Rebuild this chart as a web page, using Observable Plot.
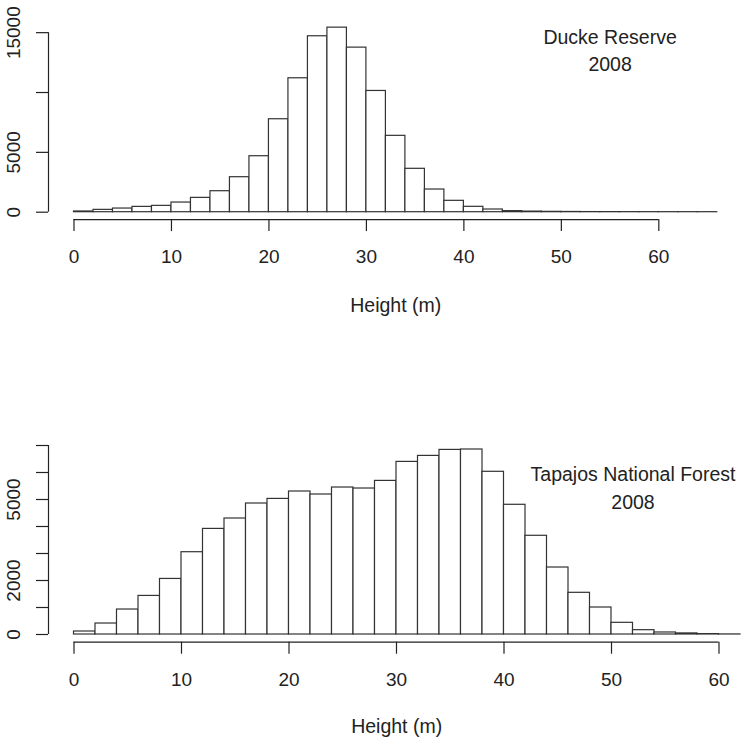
<!DOCTYPE html>
<html>
<head>
<meta charset="utf-8">
<script src="https://cdn.jsdelivr.net/npm/d3@7"></script>
<script src="https://cdn.jsdelivr.net/npm/@observablehq/plot@0.6"></script>
<style>
  body { margin: 0; background: #fff; }
  #chart svg { display: block; }
</style>
</head>
<body>
<div id="chart"></div>
<script>
// ---- Data ----
const binWidth = 2; // metres per histogram bin

// Ducke Reserve 2008: counts per 2 m bin, from 0 m up to 66 m
const duckeCounts = [60, 195, 306, 445, 529, 807, 1197, 1754, 2924, 4677, 7767, 11190,
  14700, 15420, 13750, 10130, 6380, 3625, 1895, 950, 450, 225, 90, 50, 30, 20, 10, 8, 4, 3, 2, 1, 1];

// Tapajos National Forest 2008: counts per 2 m bin, from 0 m up to 62 m
const tapajosCounts = [111, 407, 925, 1429, 2058, 3048, 3911, 4296, 4852, 5022, 5296, 5185,
  5444, 5407, 5689, 6393, 6615, 6837, 6852, 6026, 4804, 3656, 2481, 1544, 1000, 433, 160, 75, 40, 15, 3];

const xTicks = [0, 10, 20, 30, 40, 50, 60];
const duckeYTicks = [0, 5000, 10000, 15000];
const duckeYLabels = ["0", "5000", "", "15000"];
const tapajosYTicks = [0, 1000, 2000, 3000, 4000, 5000, 6000, 7000];
const tapajosYLabels = ["0", "", "2000", "", "", "5000", "", ""];

const duckeTitle = ["Ducke Reserve", "2008"];
const tapajosTitle = ["Tapajos National Forest", "2008"];
const duckeTitlePos = {x: 55, y: 13650};
const tapajosTitlePos = {x: 52, y: 5489};
const xLabel = "Height (m)";

// ---- Drawing ----
const FONT = "'Liberation Sans', Arial, Helvetica, sans-serif";
const INK = "#222";

function histogram({counts, xMax, yMax, yTicks, yLabels, title, titlePos, titleLineHeight,
                    marginTop, marginBottom, marginRight, insetRight, insetBottom, labelDy}) {
  const bins = counts.map((c, i) => ({x1: i * binWidth, x2: (i + 1) * binWidth, count: c}));
  const insetLeft = 25.5;
  return Plot.plot({
    width: 750,
    height: 372,
    marginLeft: 48,
    marginRight,
    marginTop,
    marginBottom,
    style: {fontFamily: FONT, fontSize: "19px", color: INK, background: "#fff"},
    x: {domain: [0, xMax], insetLeft, insetRight},
    y: {domain: [0, yMax], insetBottom, insetTop: 0},
    marks: [
      Plot.rectY(bins, {x1: "x1", x2: "x2", y: "count", fill: "white", stroke: "#333", strokeWidth: 1.2, inset: 0}),
      // R-style detached axis lines
      Plot.ruleY([0], {x1: 0, x2: d3.max(xTicks), dy: insetBottom, stroke: INK, strokeWidth: 1.2}),
      Plot.ruleX([0], {y1: 0, y2: d3.max(yTicks), dx: -insetLeft, stroke: INK, strokeWidth: 1.2}),
      Plot.axisX(xTicks, {tickSize: 12, tickPadding: 18, label: null, fontSize: 19, strokeWidth: 1.2}),
      Plot.axisY(yTicks, {tickSize: 12, tickPadding: 16.5, tickRotate: -90, label: null, fontSize: 19,
        strokeWidth: 1.2, tickFormat: d => yLabels[yTicks.indexOf(d)]}),
      Plot.text([title.join("\n")], {x: titlePos.x, y: titlePos.y, text: d => d, fontSize: 19.5,
        lineHeight: titleLineHeight, textAnchor: "middle", lineAnchor: "middle", fill: INK}),
      Plot.text([xLabel], {frameAnchor: "bottom", dy: labelDy, text: d => d, fontSize: 19.5,
        lineAnchor: "middle", fill: INK})
    ]
  });
}

const duckeChart = histogram({
  counts: duckeCounts, xMax: 66, yMax: 16000, yTicks: duckeYTicks, yLabels: duckeYLabels,
  title: duckeTitle, titlePos: duckeTitlePos, titleLineHeight: 1.37,
  marginTop: 20.2, marginBottom: 152.9, marginRight: 7.5, insetRight: 25.7, insetBottom: 7.4, labelDy: 86
});
const tapajosChart = histogram({
  counts: tapajosCounts, xMax: 62, yMax: 7000, yTicks: tapajosYTicks, yLabels: tapajosYLabels,
  title: tapajosTitle, titlePos: tapajosTitlePos, titleLineHeight: 1.45,
  marginTop: 73, marginBottom: 102.3, marginRight: 5.7, insetRight: 4.3, insetBottom: 7.7, labelDy: 84.3
});
document.getElementById("chart").append(duckeChart, tapajosChart);
</script>
</body>
</html>
